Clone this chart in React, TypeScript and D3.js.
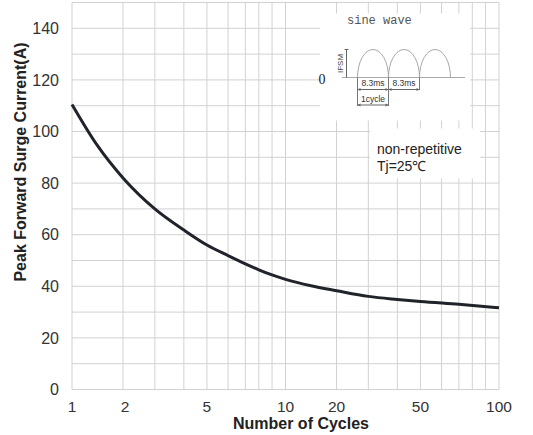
import React, { useEffect, useRef } from 'react';
import * as d3 from 'd3';

// data
const cycles = [1, 1.5, 2, 3, 4, 5, 6, 7, 8, 9, 10, 15, 20, 30, 40, 50, 70, 100];
const surgeCurrent = [110.5, 94.5, 82, 70, 61.8, 56, 51.9, 48.7, 46.4, 44.4, 42.7, 40.2, 38.3, 36.1, 34.9, 34.1, 33, 31.7];
const yTicks = [0, 20, 40, 60, 80, 100, 120, 140];
const xTickLabels = [1, 2, 5, 10, 20, 50, 100];
// position of 1..10 inside one decade of the chart's (non-standard) log paper
const decadeSpacing = [0, 0.239, 0.388, 0.524, 0.632, 0.731, 0.812, 0.875, 0.937, 1];

const W = 533;
const H = 435;
const FONT = 'Liberation Sans, Arial, Helvetica, sans-serif';

export default function App() {
  const ref = useRef<SVGSVGElement>(null);

  useEffect(() => {
    draw();
    // eslint-disable-next-line react-hooks/exhaustive-deps
  }, []);

  function draw() {
    const svg = d3.select(ref.current);
    svg.selectAll('*').remove();
    const margin = { top: 2.5, right: 34, bottom: 45.5, left: 72 };
    const innerWidth = W - margin.left - margin.right;
    const innerHeight = H - margin.top - margin.bottom;
    const g = svg.append('g').attr('transform', `translate(${margin.left},${margin.top})`);

    // grid values: 1..10, 20..100
    const gridX: number[] = [];
    const gridFrac: number[] = [];
    [0, 1].forEach((dec) => {
      decadeSpacing.forEach((f, i) => {
        if (dec === 1 && i === 0) return;
        gridX.push((i + 1) * Math.pow(10, dec));
        gridFrac.push(dec + f);
      });
    });
    const decadeScale = d3.scaleLinear().domain([0, 2]).range([0, innerWidth]);
    const xScale = d3.scaleLinear().domain(gridX).range(gridFrac.map((f) => decadeScale(f)));
    const yScale = d3.scaleLinear().domain([0, 150]).range([innerHeight, 0]);

    // grid
    g.append('g')
      .selectAll('line')
      .data(gridX)
      .enter()
      .append('line')
      .attr('x1', (d) => xScale(d))
      .attr('x2', (d) => xScale(d))
      .attr('y1', 0)
      .attr('y2', innerHeight)
      .attr('stroke', '#d2d2d2')
      .attr('stroke-width', 1);
    g.append('g')
      .selectAll('line')
      .data(d3.range(0, 151, 10))
      .enter()
      .append('line')
      .attr('x1', 0)
      .attr('x2', innerWidth)
      .attr('y1', (d) => yScale(d))
      .attr('y2', (d) => yScale(d))
      .attr('stroke', '#d2d2d2')
      .attr('stroke-width', 1);

    // white boxes behind the notes
    g.append('rect').attr('x', 248).attr('y', 11).attr('width', 150).attr('height', 107).attr('fill', '#fff');
    g.append('rect').attr('x', 298).attr('y', 126).attr('width', 110).attr('height', 50).attr('fill', '#fff');

    // tick labels
    g.append('g')
      .selectAll('text')
      .data(yTicks)
      .enter()
      .append('text')
      .text((d) => d)
      .attr('x', -13)
      .attr('y', (d) => yScale(d))
      .attr('dy', '0.36em')
      .attr('text-anchor', 'end')
      .attr('font-family', FONT)
      .attr('font-size', 16)
      .attr('fill', '#333');
    g.append('g')
      .selectAll('text')
      .data(xTickLabels)
      .enter()
      .append('text')
      .text((d) => d)
      .attr('x', (d) => xScale(d) + (d === 2 ? 2 : 0))
      .attr('y', innerHeight + 22)
      .attr('text-anchor', 'middle')
      .attr('font-family', FONT)
      .attr('font-size', 15.5)
      .attr('fill', '#333');

    // axis titles
    svg.append('text')
      .text('Number of Cycles')
      .attr('x', 301)
      .attr('y', 429)
      .attr('text-anchor', 'middle')
      .attr('font-family', FONT)
      .attr('font-weight', 'bold')
      .attr('font-size', 16)
      .attr('fill', '#222');
    svg.append('text')
      .text('Peak Forward Surge Current(A)')
      .attr('transform', 'translate(26,162) rotate(-90)')
      .attr('text-anchor', 'middle')
      .attr('font-family', FONT)
      .attr('font-weight', 'bold')
      .attr('font-size', 16)
      .attr('fill', '#222');

    // curve
    const line = d3
      .line<number>()
      .x((d, i) => xScale(cycles[i]))
      .y((d) => yScale(d))
      .curve(d3.curveMonotoneX);
    g.append('path')
      .attr('d', line(surgeCurrent))
      .attr('fill', 'none')
      .attr('stroke', '#20242a')
      .attr('stroke-width', 3);

    // notes
    g.append('text')
      .text('non-repetitive')
      .attr('x', 305)
      .attr('y', 151)
      .attr('font-family', FONT)
      .attr('font-size', 14)
      .attr('fill', '#222');
    g.append('text')
      .text('Tj=25℃')
      .attr('x', 305)
      .attr('y', 168)
      .attr('font-family', FONT)
      .attr('font-size', 14)
      .attr('fill', '#222');

    // sine wave inset (pixel coords relative to svg)
    const ins = svg.append('g');
    const grey = '#a8a8a8';
    ins.append('text')
      .text('sine wave')
      .attr('x', 347)
      .attr('y', 24)
      .attr('font-family', 'Liberation Mono, Courier New, monospace')
      .attr('font-size', 12)
      .attr('fill', '#555');
    ins.append('text')
      .text('0')
      .attr('x', 322)
      .attr('y', 83.5)
      .attr('text-anchor', 'middle')
      .attr('font-family', 'Liberation Serif, Times New Roman, serif')
      .attr('font-size', 14)
      .attr('fill', '#222');
    const base = 77.5;
    const peak = 49.5;
    ins.append('line').attr('x1', 342).attr('x2', 465).attr('y1', base).attr('y2', base).attr('stroke', grey);
    const starts = [357.5, 388.5, 419.5];
    starts.forEach((x0) => {
      ins.append('path')
        .attr('d', `M${x0},${base} A15.5,${base - peak} 0 0 1 ${x0 + 31},${base}`)
        .attr('fill', 'none')
        .attr('stroke', grey)
        .attr('stroke-width', 1);
    });
    // IFSM bracket
    ins.append('line').attr('x1', 346.5).attr('x2', 346.5).attr('y1', peak).attr('y2', base).attr('stroke', '#666');
    ins.append('line').attr('x1', 344.5).attr('x2', 348.5).attr('y1', peak).attr('y2', peak).attr('stroke', '#666');
    ins.append('text')
      .text('IFSM')
      .attr('transform', `translate(343,${(base + peak) / 2}) rotate(-90)`)
      .attr('text-anchor', 'middle')
      .attr('font-family', FONT)
      .attr('font-size', 8)
      .attr('fill', '#444');
    // dimension lines
    [[357.5, 106], [388.5, 106], [419.5, 90]].forEach(([x, y2]) => {
      ins.append('line').attr('x1', x).attr('x2', x).attr('y1', base).attr('y2', y2).attr('stroke', '#777');
    });
    const dims = [
      { x1: 357.5, x2: 388.5, y: 89.5, label: '8.3ms', ly: 86 },
      { x1: 388.5, x2: 419.5, y: 89.5, label: '8.3ms', ly: 86 },
      { x1: 357.5, x2: 388.5, y: 105, label: '1cycle', ly: 101.5 },
    ];
    dims.forEach((d) => {
      ins.append('line').attr('x1', d.x1).attr('x2', d.x2).attr('y1', d.y).attr('y2', d.y).attr('stroke', '#666');
      ins.append('path')
        .attr('d', `M${d.x1},${d.y} l3,-1.5 v3 Z M${d.x2},${d.y} l-3,-1.5 v3 Z`)
        .attr('fill', '#666');
      ins.append('text')
        .text(d.label)
        .attr('x', (d.x1 + d.x2) / 2)
        .attr('y', d.ly)
        .attr('text-anchor', 'middle')
        .attr('font-family', FONT)
        .attr('font-size', 8.5)
        .attr('fill', '#333');
    });
  }

  return (
    <svg
      ref={ref}
      width={W}
      height={H}
      style={{ position: 'absolute', left: 0, top: 0, background: '#fff' }}
    ></svg>
  );
}
